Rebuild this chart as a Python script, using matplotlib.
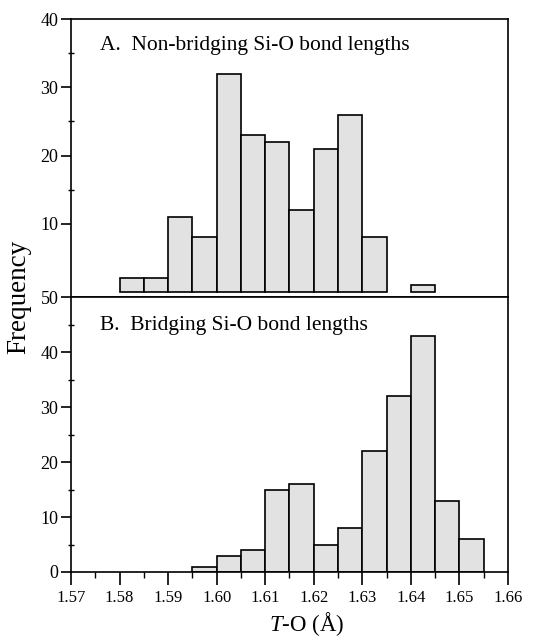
import numpy as np
import matplotlib.pyplot as plt
from matplotlib.ticker import MultipleLocator, FixedLocator

plt.rcParams['font.family'] = ['Liberation Serif', 'DejaVu Serif']
plt.rcParams['mathtext.fontset'] = 'custom'
plt.rcParams['mathtext.it'] = 'Liberation Serif:italic'
plt.rcParams['mathtext.rm'] = 'Liberation Serif'

# bin left edges (Angstrom), bin width 0.005
bin_w = 0.005
nb_left = [1.580, 1.585, 1.590, 1.595, 1.600, 1.605, 1.610, 1.615,
           1.620, 1.625, 1.630, 1.635, 1.640]
nb_freq = [2, 2, 11, 8, 32, 23, 22, 12, 21, 26, 8, 0, 1]

br_left = [1.595, 1.600, 1.605, 1.610, 1.615, 1.620, 1.625, 1.630,
           1.635, 1.640, 1.645, 1.650]
br_freq = [1, 3, 4, 15, 16, 5, 8, 22, 32, 43, 13, 6]

x_ticks = [1.57, 1.58, 1.59, 1.60, 1.61, 1.62, 1.63, 1.64, 1.65, 1.66]

fill = '#e2e2e2'

fig = plt.figure(figsize=(5.35, 6.4), dpi=100)
ax_a = fig.add_axes([0.1327, 0.5359, 0.8168, 0.4344])
ax_b = fig.add_axes([0.1327, 0.10625, 0.8168, 0.42965])

for ax, left, freq in ((ax_a, nb_left, nb_freq), (ax_b, br_left, br_freq)):
    keep = [i for i, f in enumerate(freq) if f > 0]
    ax.bar([left[i] for i in keep], [freq[i] for i in keep], width=bin_w,
           align='edge', color=fill, edgecolor='black', linewidth=1.2)
    ax.set_xlim(1.57, 1.66)
    for s in ax.spines.values():
        s.set_linewidth(1.2)
    ax.tick_params(axis='y', which='major', direction='out', length=7,
                   width=1.2, labelsize=13, pad=2)
    ax.tick_params(axis='y', which='minor', direction='inout', length=5,
                   width=1.0)
    ax.tick_params(right=False, top=False)

# panel A
ax_a.set_ylim(-0.73, 40)
ax_a.yaxis.set_major_locator(FixedLocator([10, 20, 30, 40]))
ax_a.yaxis.set_minor_locator(FixedLocator([15, 25, 35]))
ax_a.tick_params(axis='x', which='both', bottom=False, labelbottom=False)
ax_a.text(0.066, 0.903, 'A.  Non-bridging Si-O bond lengths',
          transform=ax_a.transAxes, fontsize=15.5, va='center', ha='left')

# panel B
ax_b.set_ylim(0, 50)
ax_b.yaxis.set_major_locator(MultipleLocator(10))
ax_b.yaxis.set_minor_locator(MultipleLocator(5))
ax_b.xaxis.set_major_locator(FixedLocator(x_ticks))
ax_b.xaxis.set_minor_locator(MultipleLocator(0.005))
ax_b.set_xticklabels(['%.2f' % v for v in x_ticks])
ax_b.tick_params(axis='x', which='major', direction='out', length=9,
                 width=1.2, labelsize=12, pad=4)
ax_b.tick_params(axis='x', which='minor', direction='out', length=4,
                 width=1.0)
ax_b.text(0.066, 0.895, 'B.  Bridging Si-O bond lengths',
          transform=ax_b.transAxes, fontsize=15.5, va='center', ha='left')
ax_b.set_xlabel(r'$\mathit{T}$-O (Å)', fontsize=16.5)
ax_b.xaxis.set_label_coords(0.539, -0.14)

fig.text(0.036, 0.536, 'Frequency', rotation=90, fontsize=19.5,
         va='center', ha='center')

fig.savefig('out.png', dpi=100)
